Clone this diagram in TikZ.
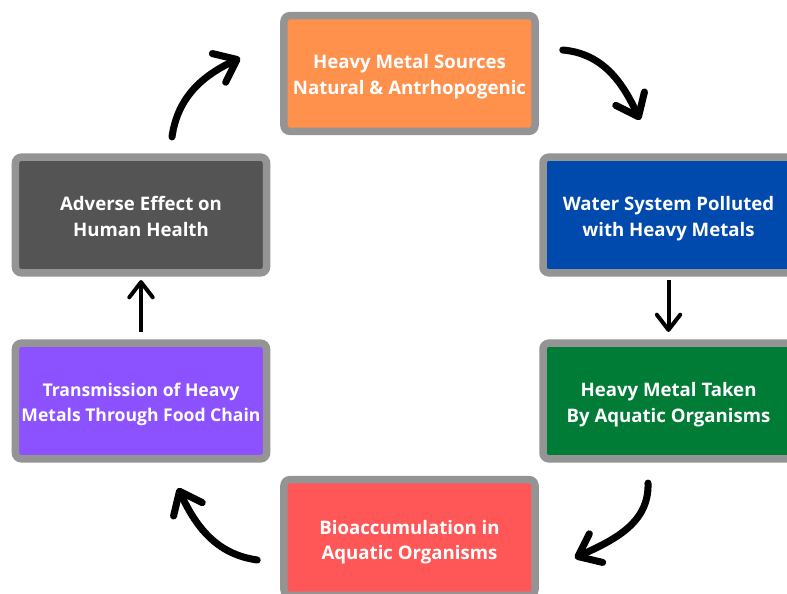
\documentclass[tikz,border=0pt]{standalone}
\usepackage{fontspec}
\setmainfont{Open Sans}
\usetikzlibrary{arrows.meta}

\definecolor{srcorange}{HTML}{FF914D}
\definecolor{watblue}{HTML}{004AAD}
\definecolor{orggreen}{HTML}{007C37}
\definecolor{biored}{HTML}{FF5757}
\definecolor{chainpurple}{HTML}{8C52FF}
\definecolor{healthgray}{HTML}{545454}
\definecolor{framegray}{HTML}{949494}

\tikzset{
	stage/.style={draw=framegray, line width=6.4pt, rounded corners=5pt,
		minimum width=7.53cm, minimum height=3.47cm, inner sep=0pt},
	stage text/.style={align=center, text=white, yshift=-3pt, inner sep=0pt,
		font=\bfseries\fontsize{15.9}{22}\selectfont},
	bend arrow/.style={line width=6pt, line cap=round,
		-{Straight Barb[round, length=17pt, width=27pt]}},
	flat arrow/.style={line width=3.4pt,
		-{Straight Barb[round, length=13pt, width=20pt]}}
}

\begin{document}
\begin{tikzpicture}[x=0.03cm, y=-0.03cm]
	\useasboundingbox (0,0) rectangle (787,594);
	% the six stages of the cycle
	\node[stage, fill=srcorange, label={[stage text]center:{Heavy Metal Sources\\Natural \& Antrhopogenic}}]
		(src) at (409.5,73.5) {};
	\node[stage, fill=watblue, label={[stage text]center:{Water System Polluted\\with Heavy Metals}}]
		(wat) at (668.5,215) {};
	\node[stage, fill=orggreen, label={[stage text]center:{Heavy Metal Taken\\By Aquatic Organisms}}]
		(org) at (668.5,401) {};
	\node[stage, fill=biored, label={[stage text, yshift=-1pt]center:{Bioaccumulation in\\Aquatic Organisms}}]
		(bio) at (409.5,537.5) {};
	\node[stage, fill=chainpurple, label={[stage text, font=\bfseries\fontsize{15}{21.5}\selectfont]center:{Transmission of Heavy\\Metals Through Food Chain}}]
		(chain) at (141,401) {};
	\node[stage, fill=healthgray, label={[stage text, yshift=2pt]center:{Adverse Effect on\\Human Health}}]
		(adv) at (141,215) {};

	% curved arrows
	\draw[bend arrow] ([shift={(31,-16.5)}]adv.north) to[out=82, in=205]
		([shift={(-40,-15.5)}]src.west);
	\draw[bend arrow] ([shift={(24,-23.5)}]src.east) to[out=-5, in=115]
		([shift={(-28.5,-33.5)}]wat.north);
	\draw[bend arrow] ([shift={(-20.5,20.5)}]org.south) to[out=-88, in=25]
		([shift={(36,20.5)}]bio.east);
	\draw[bend arrow] ([shift={(-23,22.5)}]bio.west) to[out=172, in=-65]
		([shift={(37,25.5)}]chain.south);

	% straight arrows
	\draw[flat arrow, shorten <=3pt, shorten >=6.4pt] (wat) -- (org);
	\draw[flat arrow, shorten <=6.4pt, shorten >=3pt] (chain) -- (adv);
\end{tikzpicture}
\end{document}
